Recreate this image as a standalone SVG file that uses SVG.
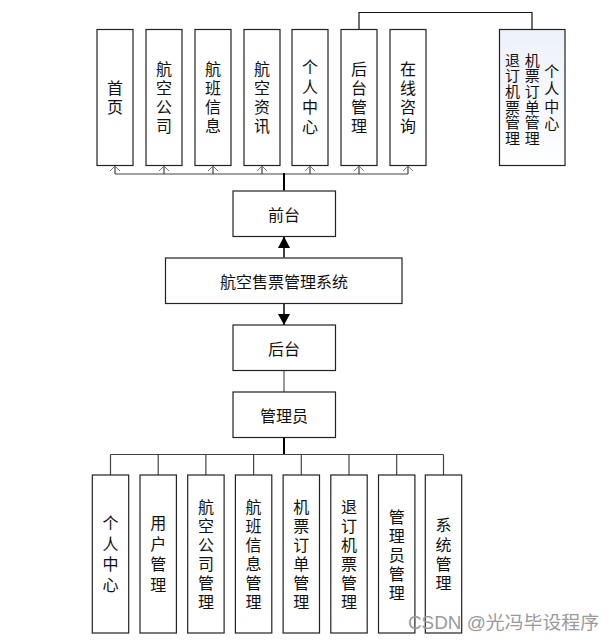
<svg xmlns="http://www.w3.org/2000/svg" width="615" height="642" viewBox="0 0 615 642">
<style>
.box{fill:#fff;stroke:#222;stroke-width:1.2}
.t{font-family:"Noto Sans CJK SC","Noto Sans",sans-serif;font-size:16px;fill:#111;text-anchor:middle;dominant-baseline:central}
.v{font-family:"Noto Sans CJK SC","Noto Sans",sans-serif;font-size:16px;fill:#111;text-anchor:middle;writing-mode:vertical-rl;letter-spacing:3px}
.vs{font-size:15px;letter-spacing:0.6px}
.bus{fill:none;stroke:#444;stroke-width:1.2}
.trunk{fill:none;stroke:#000;stroke-width:2}
.thin{fill:none;stroke:#111;stroke-width:1.2}
.oa{fill:none;stroke:#777;stroke-width:1}
.wm{font-family:"Liberation Sans","Noto Sans CJK SC",sans-serif;font-size:18px;fill:#9a9a9a}
</style>
<defs>
<linearGradient id="g" x1="0" y1="0" x2="0" y2="1">
<stop offset="0" stop-color="#edf1f9"/>
<stop offset="1" stop-color="#ffffff"/>
</linearGradient>
</defs>
<g id="connectors">
<path class="bus" d="M115,174 H408"/>
<path class="bus" d="M115,174 V166 M164,174 V166 M213,174 V166 M262,174 V166 M310,174 V166 M359,174 V166 M408,174 V166"/>
<path class="oa" d="M110,171 L115,166 L120,171 M159,171 L164,166 L169,171 M208,171 L213,166 L218,171 M257,171 L262,166 L267,171 M305,171 L310,166 L315,171 M354,171 L359,166 L364,171 M403,171 L408,166 L413,171"/>
<path class="trunk" d="M284,190.5 V173"/>
<path class="thin" d="M359,29 V12.5 H532 V29"/>
<path d="M284,257.5 V237" stroke="#000" stroke-width="1.5" fill="none"/>
<path d="M284,236.5 L278,248 L290,248 Z" fill="#000"/>
<path d="M284,303.5 V325" stroke="#000" stroke-width="1.5" fill="none"/>
<path d="M284,325 L278,314 L290,314 Z" fill="#000"/>
<path d="M284,370.5 V392" stroke="#555" stroke-width="1.2" fill="none"/>
<path class="trunk" d="M284,437.5 V455"/>
<path class="bus" d="M110.5,454.5 H443.5 M110.5,454.5 V475 M158.2,454.5 V475 M205.9,454.5 V475 M253.6,454.5 V475 M301.3,454.5 V475 M349,454.5 V475 M396.7,454.5 V475 M443.5,454.5 V475"/>
</g>
<g id="n-shouye"><rect class="box" x="97" y="29.5" width="36" height="136"/><text class="v" x="115" y="99">首页</text></g>
<g id="n-hkgs"><rect class="box" x="146" y="29.5" width="36" height="136"/><text class="v" x="164" y="99">航空公司</text></g>
<g id="n-hbxx"><rect class="box" x="195" y="29.5" width="36" height="136"/><text class="v" x="213" y="99">航班信息</text></g>
<g id="n-hkzx"><rect class="box" x="244" y="29.5" width="36" height="136"/><text class="v" x="262" y="99">航空资讯</text></g>
<g id="n-grzx"><rect class="box" x="292" y="29.5" width="36" height="136"/><text class="v" x="310" y="99" style="letter-spacing:4px">个人中心</text></g>
<g id="n-htgl"><rect class="box" x="341" y="29.5" width="36" height="136"/><text class="v" x="359" y="99">后台管理</text></g>
<g id="n-zxzx"><rect class="box" x="390" y="29.5" width="36" height="136"/><text class="v" x="408" y="99">在线咨询</text></g>
<g id="n-right"><rect x="499.5" y="29.5" width="65.5" height="136" fill="url(#g)" stroke="#222" stroke-width="1.2"/>
<text class="v vs" x="512.5" y="99.5">退订机票管理</text>
<text class="v vs" x="532.3" y="99.5">机票订单管理</text>
<text class="v vs" x="551.7" y="98.5" style="letter-spacing:2.2px">个人中心</text>
</g>
<g id="n-qiantai"><rect class="box" x="233" y="191" width="102.5" height="45.5"/><text class="t" x="284" y="213.5">前台</text></g>
<g id="n-system"><rect class="box" x="165.5" y="258" width="236.5" height="45.5"/><text class="t" x="284" y="280.5">航空售票管理系统</text></g>
<g id="n-houtai"><rect class="box" x="233" y="325" width="102.5" height="45.5"/><text class="t" x="284" y="347.5">后台</text></g>
<g id="n-admin"><rect class="box" x="233" y="392" width="102.5" height="45.5"/><text class="t" x="284" y="414.5">管理员</text></g>
<g id="b-grzx"><rect class="box" x="92.3" y="475" width="36.4" height="158"/><text class="v" x="110.5" y="556" style="letter-spacing:4.5px">个人中心</text></g>
<g id="b-yhgl"><rect class="box" x="140" y="475" width="36.4" height="158"/><text class="v" x="158.2" y="556" style="letter-spacing:4.5px">用户管理</text></g>
<g id="b-hkgsgl"><rect class="box" x="187.7" y="475" width="36.4" height="158"/><text class="v" x="205.9" y="555.5">航空公司管理</text></g>
<g id="b-hbxxgl"><rect class="box" x="235.4" y="475" width="36.4" height="158"/><text class="v" x="253.6" y="555.5">航班信息管理</text></g>
<g id="b-jpddgl"><rect class="box" x="283.1" y="475" width="36.4" height="158"/><text class="v" x="301.3" y="555.5">机票订单管理</text></g>
<g id="b-tdjpgl"><rect class="box" x="330.8" y="475" width="36.4" height="158"/><text class="v" x="349" y="555.5">退订机票管理</text></g>
<g id="b-glygl"><rect class="box" x="378.5" y="475" width="36.4" height="158"/><text class="v" x="396.7" y="556">管理员管理</text></g>
<g id="b-xtgl"><rect class="box" x="425.3" y="475" width="36.4" height="158"/><text class="v" x="443.5" y="556" style="letter-spacing:3.3px">系统管理</text></g>
<text class="wm" x="408" y="629" textLength="191" lengthAdjust="spacingAndGlyphs">CSDN @光冯毕设程序</text>
</svg>
